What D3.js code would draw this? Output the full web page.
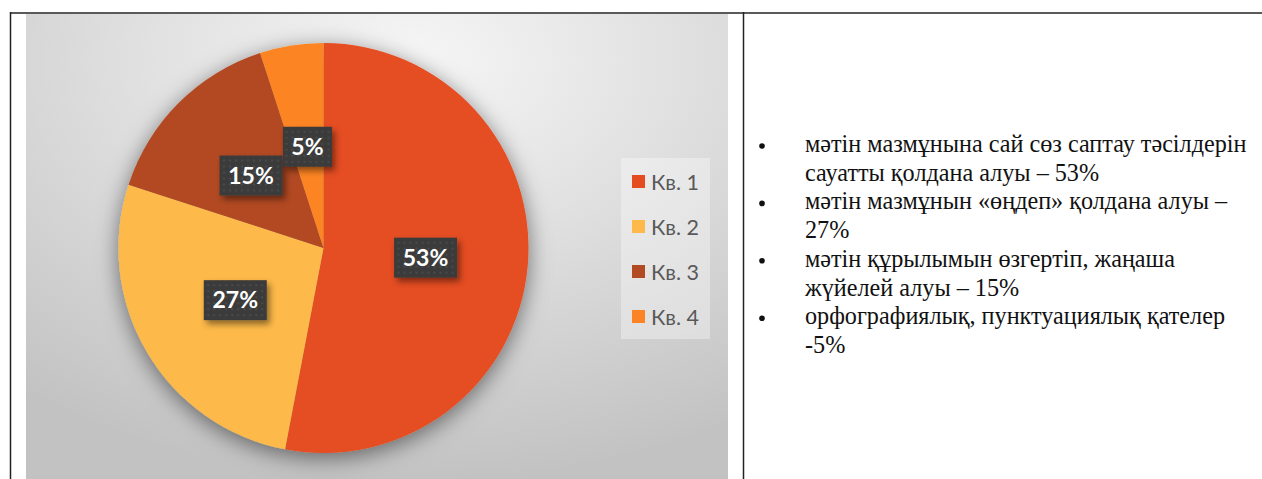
<!DOCTYPE html>
<html>
<head>
<meta charset="utf-8">
<script src="https://cdn.jsdelivr.net/npm/d3@7"></script>
<style>
  html, body { margin: 0; padding: 0; background: #fff; }
  svg { display: block; }
</style>
</head>
<body>
<svg id="chart" width="1262" height="479"></svg>
<script>
// chart data
const categories = ["Кв. 1", "Кв. 2", "Кв. 3", "Кв. 4"];
const values = [53, 27, 15, 5];
const colors = ["#E54D21", "#FDB949", "#B24A24", "#FD8424"];

// right-hand cell text, already wrapped as in the document
const bulletLines = [
  ["мәтін мазмұнына сай сөз саптау тәсілдерін", "сауатты қолдана алуы – 53%"],
  ["мәтін мазмұнын «өңдеп» қолдана алуы –", "27%"],
  ["мәтін құрылымын өзгертіп, жаңаша", "жүйелей алуы – 15%"],
  ["орфографиялық, пунктуациялық қателер", "-5%"]
];

const svg = d3.select("#chart");
const defs = svg.append("defs");

// background gradient of the chart area
const bg = defs.append("radialGradient")
  .attr("id", "bgGrad")
  .attr("cx", "55%").attr("cy", "10%").attr("r", "90%")
  .attr("fx", "55%").attr("fy", "10%");
bg.append("stop").attr("offset", "0%").attr("stop-color", "#f6f6f6");
bg.append("stop").attr("offset", "40%").attr("stop-color", "#e2e2e2");
bg.append("stop").attr("offset", "100%").attr("stop-color", "#c2c2c2");

// pie shadow
const pieShadow = defs.append("filter").attr("id", "pieShadow")
  .attr("x", "-25%").attr("y", "-25%").attr("width", "150%").attr("height", "150%");
pieShadow.append("feDropShadow")
  .attr("dx", 0).attr("dy", 5).attr("stdDeviation", 11)
  .attr("flood-color", "#000").attr("flood-opacity", 0.5);

// label shadow
const lblShadow = defs.append("filter").attr("id", "lblShadow")
  .attr("x", "-20%").attr("y", "-20%").attr("width", "150%").attr("height", "160%");
lblShadow.append("feDropShadow")
  .attr("dx", 3).attr("dy", 4).attr("stdDeviation", 3)
  .attr("flood-color", "#000").attr("flood-opacity", 0.45);

// dotted texture on label boxes
const dots = defs.append("pattern").attr("id", "dots")
  .attr("width", 6).attr("height", 6).attr("patternUnits", "userSpaceOnUse");
dots.append("rect").attr("width", 6).attr("height", 6).attr("fill", "#3b3b3b");
dots.append("circle").attr("cx", 3).attr("cy", 3).attr("r", 1.1).attr("fill", "#4c4c4c");

// table frame
svg.append("rect")
  .attr("x", 26).attr("y", 14).attr("width", 702).attr("height", 470)
  .attr("fill", "url(#bgGrad)");

svg.append("line")
  .attr("x1", 10).attr("x2", 1262).attr("y1", 13).attr("y2", 13)
  .attr("stroke", "#5a5a5a").attr("stroke-width", 2);
svg.append("line")
  .attr("x1", 10.5).attr("x2", 10.5).attr("y1", 12).attr("y2", 479)
  .attr("stroke", "#222").attr("stroke-width", 1.5);
svg.append("line")
  .attr("x1", 743.5).attr("x2", 743.5).attr("y1", 12).attr("y2", 479)
  .attr("stroke", "#222").attr("stroke-width", 1.5);

// pie
const cx = 323.5, cy = 248, R = 205;
const pie = d3.pie().sort(null).value(d => d);
const arcs = pie(values);
const arc = d3.arc().innerRadius(0).outerRadius(R);
const labelArc = d3.arc().innerRadius(R * 0.5).outerRadius(R * 0.5);

const g = svg.append("g").attr("transform", `translate(${cx},${cy})`);
g.append("g").attr("filter", "url(#pieShadow)")
  .selectAll("path")
  .data(arcs)
  .join("path")
  .attr("d", arc)
  .attr("fill", (d, i) => colors[i]);

// data labels
const lbl = g.selectAll("g.lbl")
  .data(arcs)
  .join("g")
  .attr("class", "lbl")
  .attr("transform", d => `translate(${labelArc.centroid(d)})`);

lbl.each(function (d) {
  const sel = d3.select(this);
  const txt = d.data + "%";
  const w = txt.length === 2 ? 49 : 63;
  const h = 40;
  sel.append("rect")
    .attr("x", -w / 2).attr("y", -h / 2)
    .attr("width", w).attr("height", h)
    .attr("fill", "url(#dots)")
    .attr("filter", "url(#lblShadow)");
  sel.append("text")
    .attr("text-anchor", "middle")
    .attr("dy", "0.36em")
    .attr("font-family", "Lato, 'Open Sans', sans-serif")
    .attr("font-weight", "bold")
    .attr("font-size", 23)
    .attr("fill", "#fff")
    .text(txt);
});

// legend
const legend = svg.append("g");
legend.append("rect")
  .attr("x", 621).attr("y", 158).attr("width", 89).attr("height", 181)
  .attr("fill", "#fff").attr("fill-opacity", 0.35);

const legendY = d3.scalePoint().domain(categories).range([182, 317]);
const item = legend.selectAll("g.item")
  .data(categories)
  .join("g")
  .attr("class", "item")
  .attr("transform", d => `translate(0,${legendY(d)})`);
item.append("rect")
  .attr("x", 632).attr("y", -7).attr("width", 13).attr("height", 13)
  .attr("fill", (d, i) => colors[i]);
item.append("text")
  .attr("x", 651).attr("dy", "0.35em")
  .attr("font-family", "Lato, 'Open Sans', sans-serif")
  .attr("font-size", 21.5)
  .attr("fill", "#595959")
  .text(d => d);

// bullet list in right cell
const lineStep = 28.7;
let row = 0;
const listG = svg.append("g")
  .style("font-family", "'Liberation Serif', 'DejaVu Serif', serif")
  .style("font-size", "24.2px")
  .attr("fill", "#111");
bulletLines.forEach(lines => {
  const y0 = 152 + row * lineStep;
  listG.append("circle").attr("cx", 762).attr("cy", y0 - 6).attr("r", 2.8).attr("fill", "#111");
  lines.forEach((t, k) => {
    listG.append("text")
      .attr("x", 805)
      .attr("y", 152 + (row + k) * lineStep)
      .text(t);
  });
  row += lines.length;
});
</script>
</body>
</html>
